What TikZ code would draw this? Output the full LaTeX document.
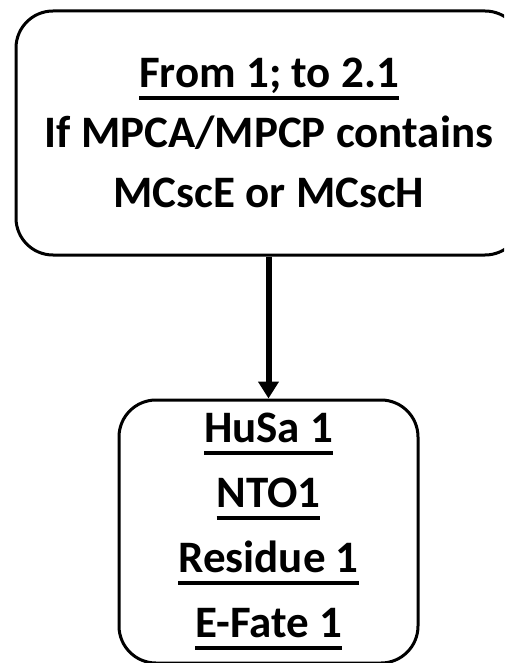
\documentclass[tikz,border=0pt]{standalone}
\usepackage{fontspec}
\setmainfont{Carlito}
\usetikzlibrary{positioning,arrows.meta}

\newcommand\ulin[1]{\setbox0\hbox{#1}\rlap{\rule[-12pt]{\wd0}{3.5pt}}\box0}

\begin{document}
\begin{tikzpicture}[
                x=1pt, y=-1pt,
                stepbox/.style={draw,rounded corners=37pt,line width=3pt,align=center,inner sep=0pt},
                flow/.style={line width=6pt,-{Triangle[width=20pt,length=17pt]}}
            ]
                \useasboundingbox (0,0) rectangle (504,663);
                \clip (0,0) rectangle (504,663);
                \node (cond) [stepbox,minimum width=506pt,minimum height=244pt,
                      font=\bfseries\fontsize{45}{60}\selectfont] at (269,133)
                      {\ulin{From 1; to 2.1}\\If MPCA/MPCP contains\\MCscE or MCscH};
                \node (fate) [stepbox,minimum width=299pt,minimum height=263pt,
                      font=\bfseries\fontsize{45}{65}\selectfont] at (268.5,531.5)
                      {\ulin{HuSa 1}\\\ulin{NTO1}\\\ulin{Residue 1}\\\ulin{E-Fate 1}};
                \draw[flow] (cond.south-|fate.north) -- (fate);
            \end{tikzpicture}
\end{document}
